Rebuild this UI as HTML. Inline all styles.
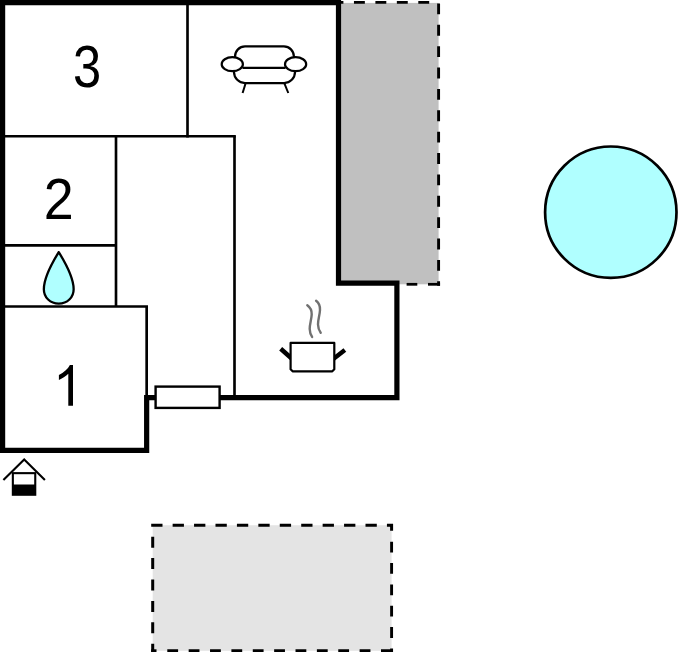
<!DOCTYPE html>
<html>
<head>
<meta charset="utf-8">
<style>
html,body{margin:0;padding:0;background:#fff;}
body{width:678px;height:652px;overflow:hidden;font-family:"Liberation Sans",sans-serif;}
svg{display:block;}
text{font-family:"Liberation Sans",sans-serif;fill:#000;}
</style>
</head>
<body>
<svg width="678" height="652" viewBox="0 0 678 652">
  <rect x="0" y="0" width="678" height="652" fill="#fff"/>

  <!-- gray terrace right -->
  <rect x="339" y="2.9" width="99.6" height="281.4" fill="#c0c0c0"/>
  <g stroke="#000" fill="none">
    <path d="M332.5 2.4 H438.6" stroke-width="2.6" stroke-dasharray="10.9 10.55"/>
    <path d="M438.6 3.4 V285.65" stroke-width="2.9" stroke-dasharray="10.9 10.48"/>
    <path d="M440.05 284.3 H428" stroke-width="2.75"/>
    <path d="M417.3 284.3 H406.6" stroke-width="2.75"/>
  </g>

  <!-- bottom dashed rect -->
  <rect x="152.7" y="525.25" width="238.9" height="125.55" fill="#e4e4e4"/>
  <g stroke="#000" fill="none" stroke-width="3">
    <path d="M151.2 525.25 H391.6 V530.8" stroke-dasharray="11.3 10.13" stroke-linejoin="miter"/>
    <path d="M391.6 541.7 V652" stroke-width="2.9" stroke-dasharray="10.8 10.55"/>
    <path d="M152.7 536.7 V652" stroke-dasharray="11 10.4"/>
    <path d="M151.2 650.8 H156.5"/>
    <path d="M167.3 650.8 H393.05" stroke-dasharray="10.8 10.57"/>
  </g>

  <!-- pool -->
  <circle cx="610.8" cy="212.2" r="65.7" fill="#b0ffff" stroke="#000" stroke-width="2.7"/>

  <!-- thin interior walls -->
  <g stroke="#000" stroke-width="2.65" fill="none" stroke-linecap="butt">
    <line x1="187.5" y1="3" x2="187.5" y2="137.5"/>
    <line x1="3" y1="136.2" x2="235.85" y2="136.2"/>
    <line x1="234.5" y1="136.2" x2="234.5" y2="398"/>
    <line x1="116" y1="136.2" x2="116" y2="306.5"/>
    <line x1="3" y1="245.3" x2="116" y2="245.3"/>
    <line x1="3" y1="306.5" x2="148" y2="306.5"/>
    <line x1="146.65" y1="306.5" x2="146.65" y2="398"/>
  </g>

  <!-- thick outer walls -->
  <path d="M2.6 450.4 L2.6 2.55 L338.5 2.55 L338.5 283.1 L396.9 283.1 L396.9 397.6 L146.65 397.6 L146.65 450.4 L0 450.4" fill="none" stroke="#000" stroke-width="5.2" stroke-linejoin="miter"/>

  <!-- window / door rect -->
  <rect x="155.6" y="386.6" width="64" height="21.3" fill="#fff" stroke="#000" stroke-width="2.4"/>

  <!-- numbers -->
  <text x="87.2" y="87" font-size="58.6" text-anchor="middle" transform="translate(87.2 0) scale(0.865 1) translate(-87.2 0)">3</text>
  <text x="58.7" y="218.6" font-size="58" text-anchor="middle" transform="translate(58.7 0) scale(0.928 1) translate(-58.7 0)">2</text>
  <path transform="translate(58.9 405.85) scale(0.02611 -0.02793) translate(-223 0)" d="M763 0 H583 V1147 Q518 1085 412.5 1023 T223 930 V1104 Q373 1174.5 485.5 1275 T644 1466 H763 Z" fill="#000"><title>1</title></path>

  <!-- drop -->
  <path d="M58.75 252.1 C51.7 263.5 43.85 277.5 43.85 289.2 C43.85 297.5 50.3 303.65 58.75 303.65 C67.2 303.65 73.65 297.5 73.65 289.2 C73.65 277.5 65.8 263.5 58.75 252.1 Z" fill="#b0ffff" stroke="#000" stroke-width="2.3" stroke-linejoin="round"/>

  <!-- sofa -->
  <g fill="none" stroke="#000" stroke-width="2.2" stroke-linecap="butt">
    <path d="M235 58 V56.6 A10 10.2 0 0 1 245 46.4 H283.9 A10 10.2 0 0 1 293.9 56.6 V58"/>
    <path d="M234 71 V72 A11 11.05 0 0 0 245 83.05 H284.1 A10.9 11.05 0 0 0 295 72 V71"/>
    <line x1="242.5" y1="67.85" x2="285.5" y2="67.85"/>
    <ellipse cx="232.3" cy="64.15" rx="10.6" ry="6.95"/>
    <ellipse cx="295.6" cy="64.15" rx="10.6" ry="6.95"/>
    <line x1="245.6" y1="83.3" x2="242.6" y2="93" stroke-width="2"/>
    <line x1="284.4" y1="83.3" x2="288.3" y2="93" stroke-width="2"/>
  </g>

  <!-- pot -->
  <g fill="none" stroke="#000">
    <line x1="280.7" y1="348.8" x2="291.4" y2="358.2" stroke-width="4.5"/>
    <line x1="333.6" y1="358.7" x2="344.85" y2="350" stroke-width="4.5"/>
    <path d="M290.6 342.9 H334.3 V369.3 L332.3 371.3 H292.6 L290.6 369.3 Z" stroke-width="2.2" fill="#fff" stroke-linejoin="round"/>
    <path d="M307.3 305.2 C310.5 307.5 311.9 310.5 311.7 314.5 C311.5 319.5 309.6 324 309.7 329 C309.8 332.5 310.8 335 312.1 336.9" stroke="#717171" stroke-width="2.4" stroke-linecap="round"/>
    <path d="M316.1 300.8 C319 303 320.2 306 320 310 C319.8 315 317.9 319.5 318 324.5 C318.1 328 319.2 330.7 320.7 332.7" stroke="#717171" stroke-width="2.4" stroke-linecap="round"/>
  </g>

  <!-- house icon -->
  <g stroke="#000" fill="none">
    <path d="M3.4 480.1 L24.2 459.4 L44.9 480.1" stroke-width="2.1" stroke-linecap="butt" stroke-linejoin="miter"/>
    <rect x="12.85" y="473.15" width="22.4" height="21.6" stroke-width="2.1"/>
    <rect x="12.85" y="484.5" width="22.4" height="10.25" fill="#000" stroke="none"/>
  </g>
</svg>
</body>
</html>
